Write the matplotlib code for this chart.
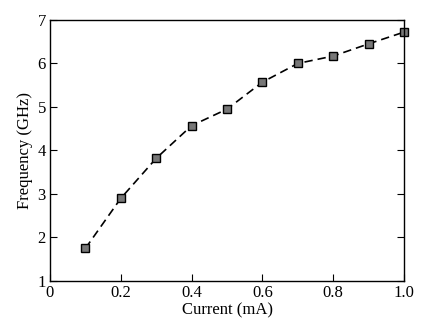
import numpy as np
import matplotlib
matplotlib.use("Agg")
import matplotlib.pyplot as plt

current = [0.1, 0.2, 0.3, 0.4, 0.5, 0.6, 0.7, 0.8, 0.9, 1.0]
frequency = [1.75, 2.9, 3.82, 4.57, 4.95, 5.57, 6.0, 6.17, 6.45, 6.72]
x_ticks = [0, 0.2, 0.4, 0.6, 0.8, 1.0]
x_labels = ["0", "0.2", "0.4", "0.6", "0.8", "1.0"]
y_ticks = [1, 2, 3, 4, 5, 6, 7]

plt.rcParams['font.family'] = ['Liberation Serif', 'DejaVu Serif']

fig = plt.figure(figsize=(4.44, 3.32), dpi=100)
ax = fig.add_axes([0.1126, 0.1536, 0.7974, 0.7864])

ax.plot(current, frequency, linestyle=(0, (5, 3)), color='black', linewidth=1.2,
        marker='s', markersize=6, markerfacecolor='#777777', markeredgecolor='black',
        markeredgewidth=1.0, clip_on=False)

ax.set_xlim(0, 1.0)
ax.set_ylim(1, 7)
ax.set_xticks(x_ticks)
ax.set_xticklabels(x_labels)
ax.set_yticks(y_ticks)
ax.tick_params(direction='in', length=5, width=0.8, labelsize=12, right=True, top=False,
               pad=3)
ax.set_xlabel("Current (mA)", fontsize=12, labelpad=1)
ax.set_ylabel("Frequency (GHz)", fontsize=12, labelpad=3)
for s in ax.spines.values():
    s.set_linewidth(1.0)

fig.savefig("out.png", dpi=100)
